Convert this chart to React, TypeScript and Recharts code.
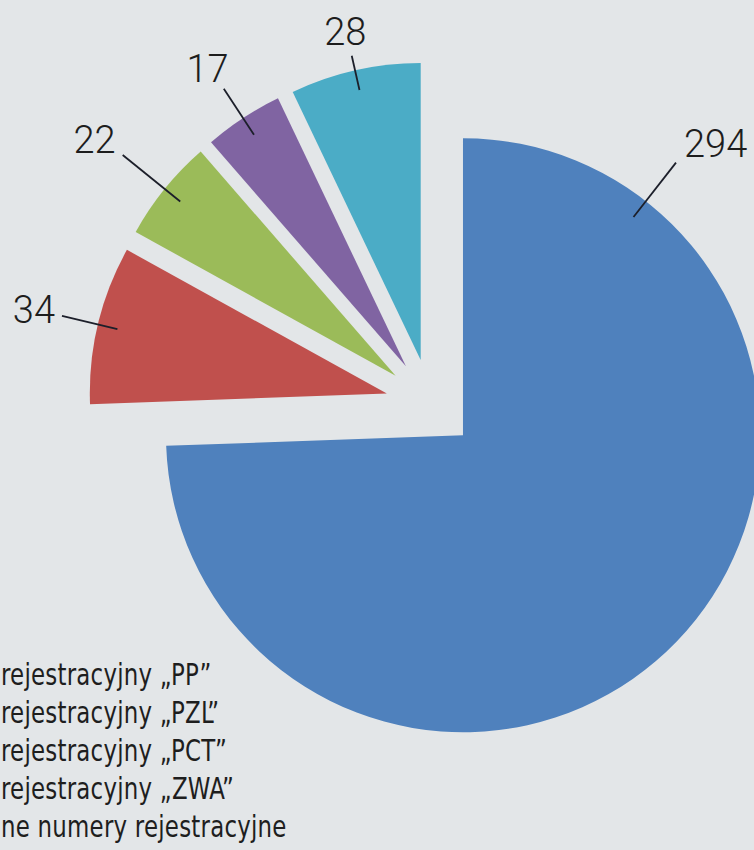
import React from "react";
import { PieChart, Pie, Cell } from "recharts";

const names = [
  "rejestracyjny „PP”",
  "rejestracyjny „PZL”",
  "rejestracyjny „PCT”",
  "rejestracyjny „ZWA”",
  "ne numery rejestracyjne",
];
const values = [294, 34, 22, 17, 28];
const colors = ["#4f81bd", "#c0504d", "#9bbb59", "#8064a2", "#4bacc6"];

const W = 754;
const H = 850;
const CX = 430.6;
const CY = 404;
const R = 297;
const EXPLODE = 45;
// where each leader line ends (px from the slice centre)
const LABEL_END = [346, 334, 351, 332, 312];
const BIG_LABEL_ANGLE = 52;
const RAD = Math.PI / 180;

const data = names.map((name, i) => ({ name, value: values[i] }));
const total = values.reduce((a, b) => a + b, 0);

// mid angle of every slice, same convention as the Pie (start 90, clockwise)
const midAngles = values.map((v, i) => {
  const before = values.slice(0, i).reduce((a, b) => a + b, 0);
  return 90 - (360 * (before + v / 2)) / total;
});

const makeLabel = (slice: number) => (props: any) => {
  if (props.index !== slice) return null;
  const { cx, cy, midAngle, value } = props;
  const a = (slice === 0 ? BIG_LABEL_ANGLE : midAngle) * RAD;
  const cos = Math.cos(a);
  const sin = Math.sin(a);
  const r1 = 277;
  const r2 = LABEL_END[slice];
  const x1 = cx + r1 * cos;
  const y1 = cy - r1 * sin;
  const x2 = cx + r2 * cos;
  const y2 = cy - r2 * sin;
  const w = String(value).length * 21.5;
  let anchor: "start" | "middle" | "end" = "middle";
  let tx = x2 + cos * (w / 2 + 8);
  if (cos > 0.6) {
    anchor = "start";
    tx = x2 + 8;
  } else if (cos < -0.6) {
    anchor = "end";
    tx = x2 - 7;
  }
  const ty = y2 - sin * 24;
  return (
    <g>
      <line x1={x1} y1={y1} x2={x2} y2={y2} stroke="#1c1f2a" strokeWidth={1.8} />
      <text
        x={tx}
        y={ty}
        textAnchor={anchor}
        dominantBaseline="central"
        fill="#1d1d1d"
        fontFamily="Roboto, 'Liberation Sans', sans-serif"
        fontWeight={300}
        fontSize={38}
      >
        {value}
      </text>
    </g>
  );
};

export default function App() {
  return (
    <div
      style={{
        position: "fixed",
        left: 0,
        top: 0,
        width: W,
        height: H,
        overflow: "hidden",
        background: "#e3e6e8",
      }}
    >
      <PieChart width={W} height={H} margin={{ top: 0, right: 0, bottom: 0, left: 0 }}>
        {values.map((_, s) => (
          <Pie
            key={s}
            data={data}
            dataKey="value"
            nameKey="name"
            cx={CX + EXPLODE * Math.cos(midAngles[s] * RAD)}
            cy={CY - EXPLODE * Math.sin(midAngles[s] * RAD)}
            innerRadius={0}
            outerRadius={R}
            startAngle={90}
            endAngle={-270}
            stroke="none"
            label={makeLabel(s)}
            labelLine={false}
            isAnimationActive={false}
          >
            {data.map((d, i) => (
              <Cell key={d.name} fill={i === s ? colors[i] : "transparent"} stroke="none" />
            ))}
          </Pie>
        ))}
      </PieChart>
      {/* legend, cut at the left edge like the source */}
      <div
        style={{
          position: "absolute",
          left: 1,
          top: 655,
          fontFamily: "'DejaVu Sans Condensed', 'DejaVu Sans', sans-serif",
          fontStretch: "condensed",
          fontSize: 31,
          letterSpacing: 0.3,
          color: "#1e1e1e",
          lineHeight: "38px",
          whiteSpace: "nowrap",
          transform: "scaleX(0.82)",
          transformOrigin: "left top",
        }}
      >
        {names.map((n) => (
          <div key={n}>{n}</div>
        ))}
      </div>
    </div>
  );
}
